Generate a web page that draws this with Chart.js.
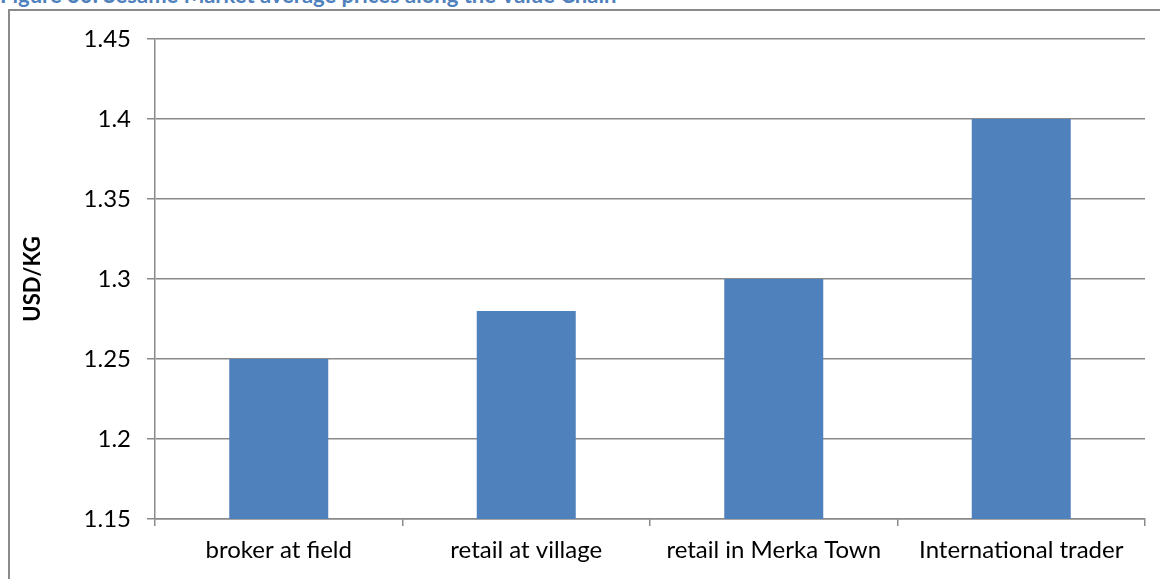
<!DOCTYPE html>
<html>
<head>
<meta charset="utf-8">
<script src="https://cdn.jsdelivr.net/npm/chart.js@4/dist/chart.umd.min.js"></script>
<style>
  html, body { margin: 0; padding: 0; background: #fff; overflow: hidden; }
  #title { position: absolute; left: 0; top: -19px; font: bold 22px Lato, sans-serif; color: #4F81BD; white-space: nowrap; }
  #frame { position: absolute; left: 8px; top: 9px; width: 1300px; height: 700px; border: 2px solid #8a8a8a; }
  #wrap { position: absolute; left: 0; top: 0; width: 1160px; height: 579px; }
</style>
</head>
<body>
<div id="title">Figure 30: Sesame Market average prices along the Value Chain</div>
<div id="frame"></div>
<div id="wrap"><canvas id="chart"></canvas></div>
<script>
const categories = ['broker at field', 'retail at village', 'retail in Merka Town', 'International trader'];
const prices = [1.25, 1.28, 1.30, 1.40];
const yMin = 1.15, yMax = 1.45, yStep = 0.05;

const gridColor = '#8a8a8a';

new Chart(document.getElementById('chart'), {
  type: 'bar',
  data: {
    labels: categories,
    datasets: [{
      data: prices,
      backgroundColor: '#4F81BD',
      barPercentage: 0.4,
      categoryPercentage: 1
    }]
  },
  options: {
    responsive: true,
    maintainAspectRatio: false,
    animation: false,
    layout: { padding: { left: 20, right: 15, top: 39, bottom: 0 } },
    plugins: { legend: { display: false }, tooltip: { enabled: false } },
    scales: {
      x: {
        grid: { drawOnChartArea: false, color: gridColor, tickLength: 7, lineWidth: 1.5 },
        border: { color: gridColor, width: 1.5 },
        ticks: { color: '#000', font: { family: 'Lato', size: 24 }, padding: 10, maxRotation: 0 },
        afterFit: (scale) => { scale.height = 60; }
      },
      y: {
        min: yMin,
        max: yMax,
        grid: { color: gridColor, tickLength: 8, lineWidth: 1.5 },
        border: { color: gridColor, width: 1.5 },
        ticks: {
          stepSize: yStep,
          color: '#000',
          font: { family: 'Lato', size: 24 },
          padding: 16,
          callback: (v) => String(Number(v.toFixed(2)))
        },
        title: { display: true, text: 'USD/KG', color: '#000', font: { family: 'Lato', size: 22, weight: 'bold' }, padding: 0 },
        afterFit: (scale) => { scale.width = 135; }
      }
    }
  }
});
</script>
</body>
</html>
